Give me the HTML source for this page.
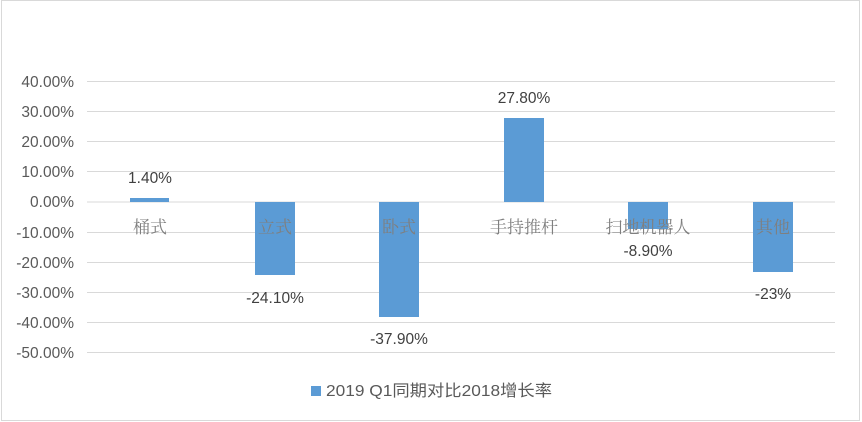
<!DOCTYPE html>
<html><head><meta charset="utf-8"><style>
body{margin:0;background:#fff}
svg{display:block}
</style></head><body>
<svg width="862" height="422" xmlns="http://www.w3.org/2000/svg">
<rect x="1.5" y="0.5" width="858" height="420" fill="#fff" stroke="#d9d9d9"/>
<g stroke="#d9d9d9" stroke-width="1">
<line x1="87" x2="835" y1="81.5" y2="81.5"/>
<line x1="87" x2="835" y1="111.5" y2="111.5"/>
<line x1="87" x2="835" y1="141.5" y2="141.5"/>
<line x1="87" x2="835" y1="171.5" y2="171.5"/>
<line x1="87" x2="835" y1="202" y2="202"/>
<line x1="87" x2="835" y1="232.5" y2="232.5"/>
<line x1="87" x2="835" y1="262.5" y2="262.5"/>
<line x1="87" x2="835" y1="292.5" y2="292.5"/>
<line x1="87" x2="835" y1="322.5" y2="322.5"/>
<line x1="87" x2="835" y1="352.5" y2="352.5"/>
</g>
<g font-family="Liberation Sans, sans-serif" font-size="15.5" fill="#595959" text-anchor="end">
<text x="74" y="87">40.00%</text>
<text x="74" y="117">30.00%</text>
<text x="74" y="147">20.00%</text>
<text x="74" y="177">10.00%</text>
<text x="74" y="207">0.00%</text>
<text x="74" y="238">-10.00%</text>
<text x="74" y="268">-20.00%</text>
<text x="74" y="298">-30.00%</text>
<text x="74" y="328">-40.00%</text>
<text x="74" y="358">-50.00%</text>
</g>
<g fill="#5b9bd5">
<rect x="130" y="198" width="39" height="4"/>
<rect x="255" y="202" width="40" height="73"/>
<rect x="379" y="202" width="40" height="115"/>
<rect x="504" y="118" width="40" height="84"/>
<rect x="628" y="202" width="40" height="27"/>
<rect x="753" y="202" width="40" height="70"/>
</g>
<g font-family="Liberation Sans, sans-serif" font-size="15.5" fill="#404040" text-anchor="middle">
<text x="150" y="183">1.40%</text>
<text x="275" y="303">-24.10%</text>
<text x="399" y="344">-37.90%</text>
<text x="524" y="103">27.80%</text>
<text x="648" y="256">-8.90%</text>
<text x="773" y="299">-23%</text>
</g>
<g font-family="Noto Serif CJK SC, serif" font-size="17" fill="#7f7f7f" text-anchor="middle">
<text x="150" y="233">桶式</text>
<text x="275" y="233">立式</text>
<text x="399" y="233">卧式</text>
<text x="524" y="233">手持推杆</text>
<text x="648" y="233">扫地机器人</text>
<text x="773" y="233">其他</text>
</g>
<rect x="311" y="386" width="10" height="10" fill="#5b9bd5"/>
<text x="326" y="396" font-family="Liberation Sans, Noto Sans CJK SC, sans-serif" font-size="16" fill="#595959" textLength="226" lengthAdjust="spacingAndGlyphs">2019 Q1同期对比2018增长率</text>
</svg>
</body></html>
